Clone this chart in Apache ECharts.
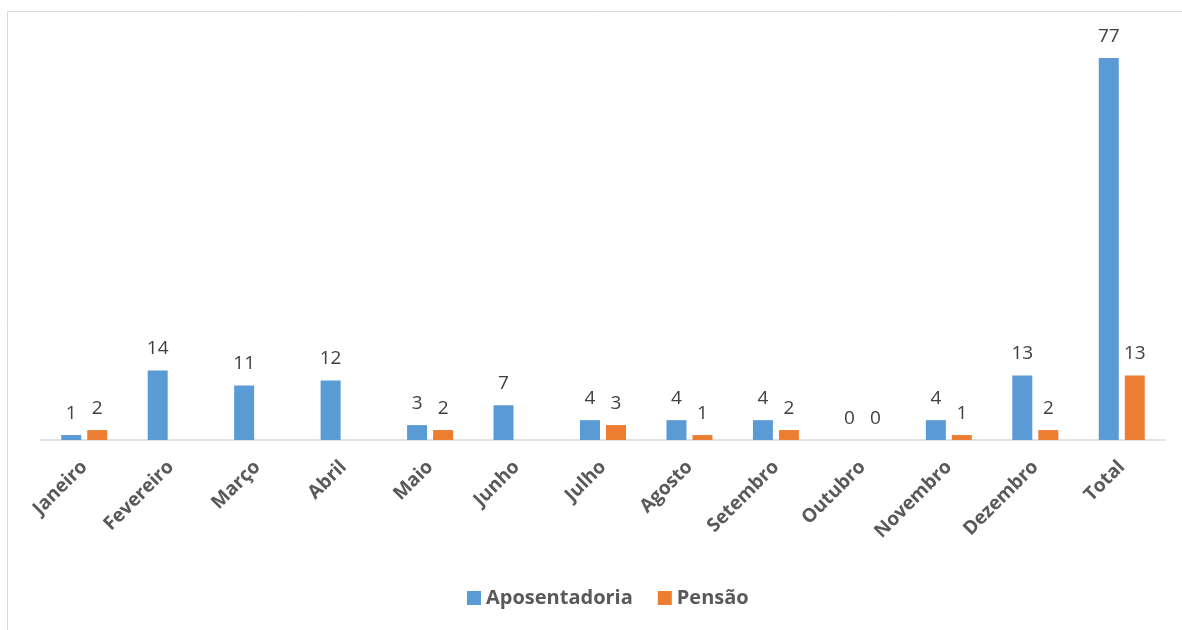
<!DOCTYPE html>
<html><head><meta charset="utf-8">
<script src="https://cdn.jsdelivr.net/npm/echarts@6/dist/echarts.min.js"></script>
<style>html,body{margin:0;padding:0;background:#fff}#c{width:1182px;height:630px}</style>
</head><body><div id="c"></div>
<script>
const categories = ['Janeiro','Fevereiro','Março','Abril','Maio','Junho','Julho','Agosto','Setembro','Outubro','Novembro','Dezembro','Total'];
const aposentadoria = [1,14,11,12,3,7,4,4,4,0,4,13,77];
const pensao = [2,null,null,null,2,null,3,1,2,0,1,2,13];
const seriesNames = ['Aposentadoria','Pensão'];

const chart = echarts.init(document.getElementById('c'), null, {renderer:'canvas'});
const font = '"Open Sans", "Liberation Sans", sans-serif';
const lbl = {show:true, position:'top', distance:12, color:'#404040', fontSize:19, fontFamily:font};
chart.setOption({
  animation:false,
  backgroundColor:'#fff',
  graphic:[{type:'rect', left:5, top:9, shape:{width:1200, height:640}, style:{fill:'none', stroke:'#d9d9d9', lineWidth:1}, silent:true}],
  grid:{left:41, right:17, top:43, bottom:190},
  legend:{bottom:17, left:462, itemWidth:14, itemHeight:14, itemGap:25, icon:'rect',
    textStyle:{color:'#595959', fontSize:20, fontWeight:'bold', fontFamily:font}, data:seriesNames},
  xAxis:{type:'category', data:categories,
    axisLine:{lineStyle:{color:'#d9d9d9', width:1.5}}, axisTick:{show:false},
    axisLabel:{rotate:45, interval:0, color:'#595959', fontSize:19, fontWeight:'bold', fontFamily:font, margin:24}},
  yAxis:{type:'value', min:0, max:80, show:false, splitLine:{show:false}},
  series:[
    {name:seriesNames[0], type:'bar', data:aposentadoria, barWidth:20, barGap:'30%', itemStyle:{color:'#5b9bd5'}, label:lbl},
    {name:seriesNames[1], type:'bar', data:pensao, barWidth:20, itemStyle:{color:'#ed7d31'}, label:lbl}
  ]
});
</script></body></html>
